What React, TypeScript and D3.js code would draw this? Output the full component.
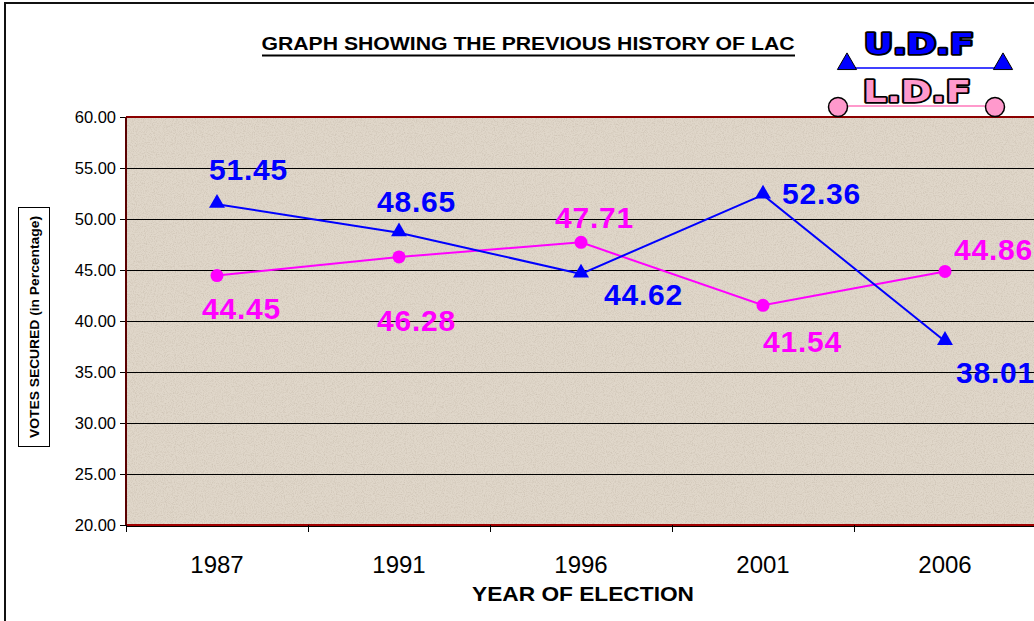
import * as d3 from "d3";

const years = ["1987", "1991", "1996", "2001", "2006"];
const udf = [51.45, 48.65, 44.62, 52.36, 38.01];
const ldf = [44.45, 46.28, 47.71, 41.54, 44.86];
const yTicks = [20, 25, 30, 35, 40, 45, 50, 55, 60];

// label offsets from each point (left edge of text, baseline)
const udfLabelOff = [[-8, -24], [-22, -21], [23, 31], [19, 9], [11, 42]];
const ldfLabelOff = [[-15, 43], [-22, 74], [-26, -14], [0, 47], [9, -11]];

const W = 1034;
const H = 621;
const left = 126, right = 1036, top = 117, bottom = 525;
const BLUE = "#0000ff";
const MAG = "#ff00ff";

export default function App() {
  const x = d3.scaleBand(years, [left, right]);
  const y = d3.scaleLinear([20, 60], [bottom, top]);
  const cx = (i) => x(years[i]) + x.bandwidth() / 2;
  const line = d3.line((d, i) => cx(i), (d) => y(d));
  const tri = d3.symbol(d3.symbolTriangle, 110)();
  const gy = (t) => Math.round(y(t)) + 0.5;

  return (
    <div style={{ position: "absolute", left: 0, top: 0 }}>
      <svg width={W} height={H} style={{ display: "block", fontFamily: "Arial, 'Liberation Sans', sans-serif" }}>
        <defs>
          <filter id="grain" x="0" y="0" width="100%" height="100%">
            <feTurbulence type="fractalNoise" baseFrequency="0.9" numOctaves="2" seed="4" result="n" />
            <feColorMatrix in="n" type="matrix"
              values="0 0 0 0 0.45  0 0 0 0 0.38  0 0 0 0 0.3  0 0 0 -1.8 1.05" />
          </filter>
          <clipPath id="plotclip">
            <rect x={left} y={top} width={right - left} height={bottom - top} />
          </clipPath>
        </defs>
        <rect x={0} y={0} width={W} height={H} fill="white" />
        {/* outer chart border */}
        <rect x={5} y={3} width={W + 10} height={H + 10} fill="none" stroke="#111" strokeWidth={2} />

        {/* plot area */}
        <rect x={left} y={top} width={right - left} height={bottom - top} fill="#e0d7ca" />
        <rect x={left} y={top} width={right - left} height={bottom - top} filter="url(#grain)" opacity={0.45} />

        {yTicks.map((t) => (
          <g key={t}>
            {t > 20 && t < 60 && (
              <line x1={left} x2={right} y1={gy(t)} y2={gy(t)} stroke="#000" strokeWidth={1} />
            )}
            <line x1={left - 6} x2={left} y1={gy(t)} y2={gy(t)} stroke="#000" strokeWidth={1} />
            <text x={left - 10} y={y(t)} dy="0.35em" textAnchor="end" fontSize={16.5}>
              {t.toFixed(2)}
            </text>
          </g>
        ))}
        <line x1={left} x2={right} y1={top} y2={top} stroke="#8b0000" strokeWidth={2} />
        <line x1={left} x2={right} y1={bottom} y2={bottom} stroke="#a00000" strokeWidth={2} />
        <line x1={left} x2={left} y1={top} y2={bottom} stroke="#5a0000" strokeWidth={2} />
        <line x1={left} x2={right} y1={bottom + 1.5} y2={bottom + 1.5} stroke="#000" strokeWidth={1} />

        {/* x axis ticks */}
        {years.map((yr, i) => (
          <g key={yr}>
            <line x1={x(yr) + 0.5} x2={x(yr) + 0.5} y1={bottom} y2={bottom + 7} stroke="#000" />
            <text x={cx(i)} y={573} textAnchor="middle" fontSize={24}>{yr}</text>
          </g>
        ))}

        <g clipPath="url(#plotclip)">
          <path d={line(ldf)} fill="none" stroke={MAG} strokeWidth={2} />
          <path d={line(udf)} fill="none" stroke={BLUE} strokeWidth={2} />
          {ldf.map((v, i) => (
            <circle key={i} cx={cx(i)} cy={y(v)} r={6.5} fill={MAG} />
          ))}
          {udf.map((v, i) => (
            <path key={i} d={tri} transform={`translate(${cx(i)},${y(v) - 1})`} fill={BLUE} />
          ))}
        </g>

        {udf.map((v, i) => (
          <text key={i} x={cx(i) + udfLabelOff[i][0]} y={y(v) + udfLabelOff[i][1]}
            fontSize={30} fontWeight="bold" fill={BLUE} letterSpacing={0.8}>
            {v.toFixed(2)}
          </text>
        ))}
        {ldf.map((v, i) => (
          <text key={i} x={cx(i) + ldfLabelOff[i][0]} y={y(v) + ldfLabelOff[i][1]}
            fontSize={30} fontWeight="bold" fill={MAG} letterSpacing={0.8}>
            {v.toFixed(2)}
          </text>
        ))}

        {/* titles */}
        <text x={528} y={50} textAnchor="middle" fontSize={18} fontWeight="bold"
          textLength={533} lengthAdjust="spacingAndGlyphs">
          GRAPH SHOWING THE PREVIOUS HISTORY OF LAC
        </text>
        <line x1={262} x2={795} y1={55.5} y2={55.5} stroke="#000" strokeWidth={2} />

        <text x={583} y={601} textAnchor="middle" fontSize={20} fontWeight="bold"
          textLength={222} lengthAdjust="spacingAndGlyphs">
          YEAR OF ELECTION
        </text>

        <rect x={18.5} y={207.5} width={31} height={239} fill="white" stroke="#000" strokeWidth={1} />
        <text transform="translate(39,327) rotate(-90)" textAnchor="middle" fontSize={12.5} fontWeight="bold"
          textLength={222} lengthAdjust="spacingAndGlyphs">
          VOTES SECURED (in Percentage)
        </text>

        {/* legend badge */}
        <g>
          <line x1={847} x2={1003} y1={68} y2={68} stroke={BLUE} strokeWidth={1.5} />
          <path d={d3.symbol(d3.symbolTriangle, 160)()} transform="translate(847,64)" fill={BLUE} stroke="#000" strokeWidth={1} />
          <path d={d3.symbol(d3.symbolTriangle, 160)()} transform="translate(1003,64)" fill={BLUE} stroke="#000" strokeWidth={1} />
          <text x={919} y={54} textAnchor="middle" fontSize={28} fontWeight="900"
            fill={BLUE} stroke="#000" strokeWidth={3.5} paintOrder="stroke" strokeLinejoin="round"
            textLength={110} lengthAdjust="spacingAndGlyphs"
            style={{ fontFamily: "'DejaVu Sans', Arial, sans-serif" }}>
            U.D.F
          </text>
          <line x1={838} x2={995} y1={106} y2={106} stroke="#ff99cc" strokeWidth={2} />
          <circle cx={838} cy={107} r={9.5} fill="#ff99cc" stroke="#000" strokeWidth={1.5} />
          <circle cx={995} cy={107} r={9.5} fill="#ff99cc" stroke="#000" strokeWidth={1.5} />
          <text x={917} y={102} textAnchor="middle" fontSize={30} fontWeight="900"
            fill="#ff99cc" stroke="#000" strokeWidth={3.5} paintOrder="stroke" strokeLinejoin="round"
            textLength={108} lengthAdjust="spacingAndGlyphs"
            style={{ fontFamily: "'DejaVu Sans', Arial, sans-serif" }}>
            L.D.F
          </text>
        </g>
      </svg>
    </div>
  );
}
